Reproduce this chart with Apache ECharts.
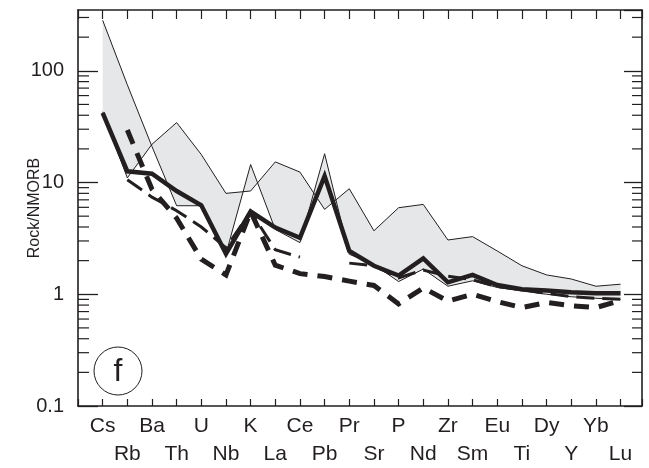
<!DOCTYPE html>
<html>
<head>
<meta charset="utf-8">
<script src="https://cdn.jsdelivr.net/npm/echarts@6/dist/echarts.min.js"></script>
<style>
html, body { margin: 0; padding: 0; background: #fff; }
#chart { width: 649px; height: 468px; }
</style>
</head>
<body>
<div id="chart"></div>
<script>
const categories = ['Cs', 'Rb', 'Ba', 'Th', 'U', 'Nb', 'K', 'La', 'Ce', 'Pb', 'Pr',
    'Sr', 'P', 'Nd', 'Zr', 'Sm', 'Eu', 'Ti', 'Dy', 'Y', 'Yb', 'Lu'];

// two sample lines bounding the grey field
const fieldA = [283, 75, 21, 6.2, 6.2, 2.3, 14.5, 3.8, 2.9, 18.1, 2.28,
    1.85, 1.3, 1.68, 1.18, 1.32, 1.15, 1.07, 1.0, 0.95, 0.92, 0.9];
const fieldB = [43, 11, 22, 34.4, 17.8, 8, 8.4, 15.3, 12.4, 5.75, 8.8,
    3.7, 5.95, 6.37, 3.06, 3.28, 2.44, 1.8, 1.49, 1.37, 1.18, 1.23];

const solid = [42, 12.6, 12, 8.4, 6.25, 2.3, 5.5, 3.95, 3.2, 11.4, 2.44,
    1.8, 1.47, 2.09, 1.28, 1.49, 1.21, 1.11, 1.08, 1.04, 1.02, 1.02];
const longDash = [null, 10.6, 7.4, 5.6, 4.0, 2.6, 5.5, 2.5, 2.15, null, 1.9,
    1.8, 1.4, 1.65, 1.45, 1.35, 1.17, 1.1, 1.02, 0.95, 0.92, 0.9];
const shortDash = [null, 29.5, 8.7, 4.8, 2.06, 1.49, 5.5, 1.82, 1.53, 1.44, 1.31,
    1.2, 0.82, 1.14, 0.87, 1.0, 0.86, 0.76, 0.845, 0.79, 0.76, 0.88];

const yMinorTicks = [0.2, 0.3, 0.4, 0.5, 0.6, 0.7, 0.8, 0.9,
    2, 3, 4, 5, 6, 7, 8, 9,
    20, 30, 40, 50, 60, 70, 80, 90,
    200, 300];

const ink = '#231f20';
const font = '"Liberation Sans", Arial, Helvetica, sans-serif';

function pairs(arr) {
    return arr.map((v, i) => [i, v == null ? '-' : v]);
}

function lineSeries(arr, width, type) {
    return {
        type: 'line',
        data: pairs(arr),
        symbol: 'none',
        connectNulls: false,
        lineStyle: {color: ink, width, type, cap: 'butt', join: 'miter'},
        z: 5,
        silent: true,
    };
}

const xBase = {
    type: 'value',
    min: -1,
    max: 21.87,
    interval: 1,
    splitLine: {show: false},
    axisLine: {show: true, onZero: false, lineStyle: {color: ink, width: 1.6}},
};

const yBase = {
    type: 'log',
    logBase: 10,
    min: 0.1,
    max: 350,
    splitLine: {show: false},
    axisLine: {show: true, onZero: false, lineStyle: {color: ink, width: 1.6}},
};

option = {
    backgroundColor: '#fff',
    animation: false,
    grid: {left: 78, right: 7, top: 10, bottom: 60},
    xAxis: [
        Object.assign({}, xBase, {
            position: 'bottom',
            axisTick: {inside: true, length: 7, lineStyle: {color: ink, width: 1.2}},
            axisLabel: {
                color: ink,
                fontSize: 21,
                fontFamily: font,
                lineHeight: 28,
                margin: 6,
                formatter: function (v) {
                    const i = Math.round(v);
                    if (i < 0 || i >= categories.length || Math.abs(v - i) > 0.01) return '';
                    return i % 2 ? '\n' + categories[i] : categories[i];
                },
            },
        }),
        Object.assign({}, xBase, {
            position: 'top',
            axisTick: {inside: true, length: 9, lineStyle: {color: ink, width: 1.2}},
            axisLabel: {show: false},
        }),
    ],
    yAxis: [
        Object.assign({}, yBase, {
            position: 'left',
            axisTick: {inside: true, length: 20, lineStyle: {color: ink, width: 1.3}},
            axisLabel: {
                color: ink,
                fontSize: 20,
                fontFamily: font,
                margin: 14,
                showMaxLabel: false,
                formatter: v => String(v),
            },
            name: 'Rock/NMORB',
            nameLocation: 'middle',
            nameGap: 35,
            nameMoveOverlap: false,
            nameTextStyle: {color: ink, fontSize: 16, fontFamily: font},
        }),
        Object.assign({}, yBase, {
            position: 'right',
            axisTick: {inside: true, length: 18, lineStyle: {color: ink, width: 1.3}},
            axisLabel: {show: false},
        }),
    ],
    series: [
        {
            // grey field between the two bounding lines
            type: 'custom',
            silent: true,
            z: 1,
            data: [[0, fieldA[0]]],
            renderItem: function (params, api) {
                const upper = fieldA.map((v, i) => api.coord([i, v]));
                const lower = fieldB.map((v, i) => api.coord([i, v])).reverse();
                return {
                    type: 'polygon',
                    shape: {points: upper.concat(lower)},
                    style: {fill: '#e6e7e8', stroke: null},
                };
            },
        },
        {
            // minor log ticks on both frame sides
            type: 'custom',
            silent: true,
            z: 6,
            data: yMinorTicks.map(v => [0, v]),
            renderItem: function (params, api) {
                const cs = params.coordSys;
                const y = api.coord([0, api.value(1)])[1];
                const st = {stroke: ink, lineWidth: 1.2};
                return {
                    type: 'group',
                    children: [
                        {type: 'line', shape: {x1: cs.x, y1: y, x2: cs.x + 11, y2: y}, style: st},
                        {type: 'line', shape: {x1: cs.x + cs.width - 10, y1: y, x2: cs.x + cs.width, y2: y}, style: st},
                    ],
                };
            },
        },
        lineSeries(fieldA, 1, 'solid'),
        lineSeries(fieldB, 1, 'solid'),
        lineSeries(longDash, 3, [18, 8]),
        lineSeries(shortDash, 5, [15, 10]),
        lineSeries(solid, 4.5, 'solid'),
    ],
    graphic: [
        {
            type: 'circle',
            shape: {cx: 118, cy: 371, r: 24},
            style: {fill: '#fff', stroke: ink, lineWidth: 1},
            z: 10,
        },
        {
            type: 'text',
            x: 118,
            y: 372,
            style: {text: 'f', fontSize: 32, fontFamily: font, fill: ink, align: 'center', verticalAlign: 'middle'},
            z: 11,
        },
    ],
};

dom = document.getElementById('chart');
chart = echarts.init(dom);
chart.setOption(option);
</script>
</body>
</html>
